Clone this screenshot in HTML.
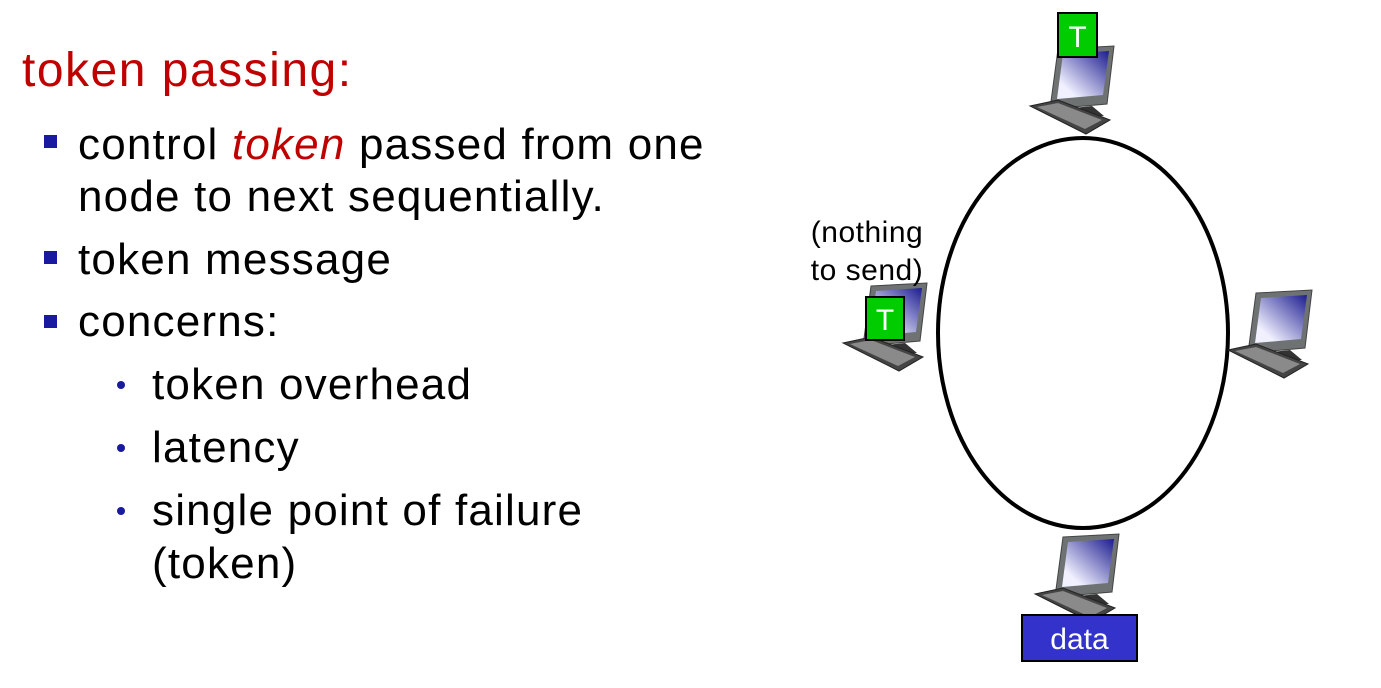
<!DOCTYPE html>
<html><head><meta charset="utf-8">
<style>
html,body{margin:0;padding:0;background:#fff;}
body{width:1381px;height:688px;position:relative;overflow:hidden;font-family:"Liberation Sans",sans-serif;}
.t{position:absolute;white-space:nowrap;color:#000;font-size:44px;letter-spacing:1.2px;line-height:1;}
.sq{position:absolute;width:13px;height:13px;background:#1a1aa0;}
.dot{position:absolute;width:8px;height:8px;border-radius:50%;background:#1a1aa0;}
</style></head><body>
<div class="t" style="left:22px;top:47px;font-size:48px;letter-spacing:1.5px;color:#c00000;">token passing:</div>
<div class="sq" style="left:44px;top:135px;"></div>
<div class="t" style="left:78px;top:123px;">control <i style="color:#c00000">token</i> passed from one</div>
<div class="t" style="left:78px;top:175px;">node to next sequentially.</div>
<div class="sq" style="left:44px;top:251px;"></div>
<div class="t" style="left:78px;top:238px;">token message</div>
<div class="sq" style="left:44px;top:315px;"></div>
<div class="t" style="left:78px;top:300px;">concerns:</div>
<div class="dot" style="left:117px;top:381px;"></div>
<div class="t" style="left:152px;top:363px;">token overhead</div>
<div class="dot" style="left:117px;top:444px;"></div>
<div class="t" style="left:152px;top:426px;">latency</div>
<div class="dot" style="left:117px;top:507px;"></div>
<div class="t" style="left:152px;top:489px;">single point of failure</div>
<div class="t" style="left:152px;top:542px;">(token)</div>

<svg width="1381" height="688" style="position:absolute;left:0;top:0">
<defs>
<linearGradient id="scr" x1="1" y1="0" x2="0" y2="1"><stop offset="0" stop-color="#1c1c90"/><stop offset="0.8" stop-color="#f0f0ff"/></linearGradient>
<g id="pc">
<polygon points="28,3 84,0 77,58 20,63" fill="#6e7272" stroke="#444" stroke-width="1"/>
<polygon points="33,8 79,5 73,49 27,53" fill="url(#scr)"/>
<polygon points="44,62 62,60 74,70 40,72" fill="#333"/>
<polygon points="0,60 28,54 80,74 56,88" fill="#444" stroke="#222" stroke-width="1"/>
<polygon points="7,61 28,57 72,74 55,83" fill="#8a8a8a"/>
</g>
</defs>
<ellipse cx="1083" cy="333" rx="145" ry="195" fill="none" stroke="#000" stroke-width="4"/>
<use href="#pc" x="1030" y="46"/>
<use href="#pc" x="843" y="283"/>
<use href="#pc" x="1228" y="290"/>
<use href="#pc" x="1035" y="534"/>
<rect x="1058" y="13" width="39" height="44" fill="#00cc00" stroke="#000" stroke-width="2"/>
<text x="1077.5" y="47" text-anchor="middle" font-size="30" fill="#fff" font-family="Liberation Sans, sans-serif">T</text>
<rect x="866" y="297" width="38" height="43" fill="#00cc00" stroke="#000" stroke-width="2"/>
<text x="885" y="330" text-anchor="middle" font-size="30" fill="#fff" font-family="Liberation Sans, sans-serif">T</text>
<text font-size="30" letter-spacing="0.5" font-family="Liberation Sans, sans-serif" text-anchor="middle"><tspan x="867" y="242">(nothing</tspan><tspan x="867" y="280">to send)</tspan></text>
<rect x="1022" y="615" width="115" height="46" fill="#3333cc" stroke="#000" stroke-width="2"/>
<text x="1079.5" y="649" text-anchor="middle" font-size="30" fill="#fff" font-family="Liberation Sans, sans-serif">data</text>
</svg>
</body></html>
